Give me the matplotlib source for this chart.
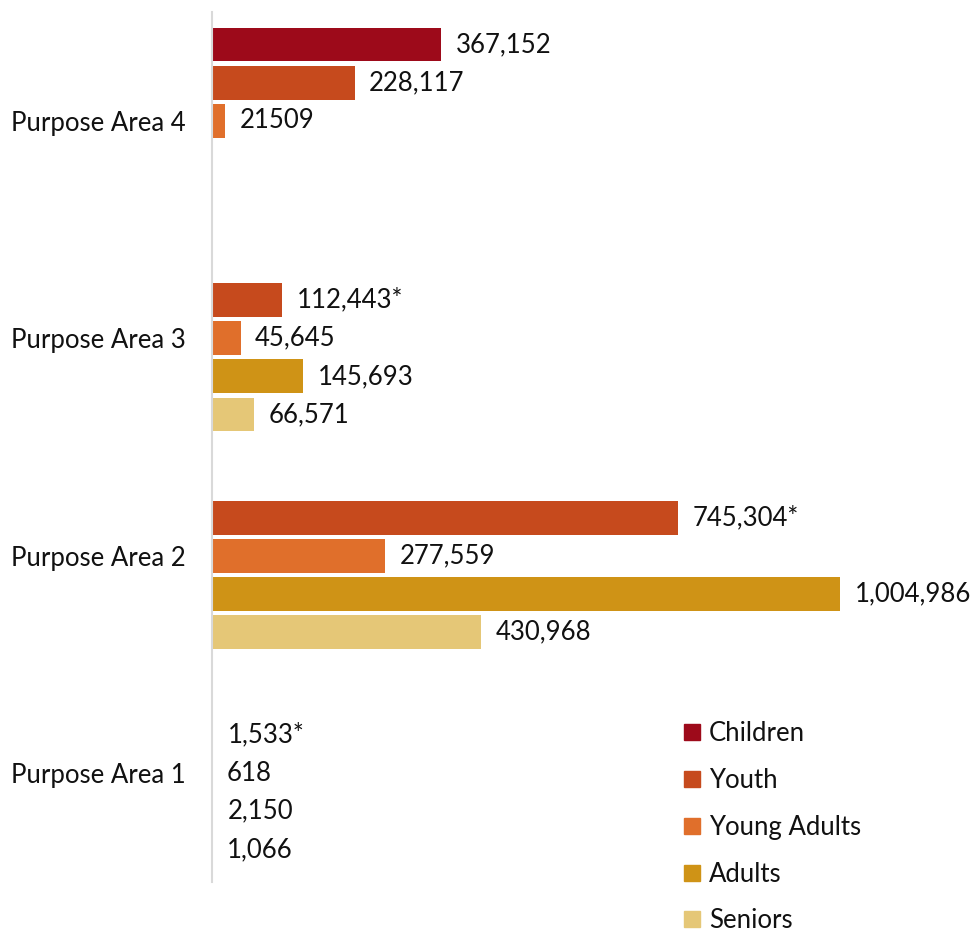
import numpy as np
import matplotlib
matplotlib.use("Agg")
import matplotlib.pyplot as plt
from matplotlib.lines import Line2D

plt.rcParams['font.family'] = ['Lato', 'DejaVu Sans']

# categories, bottom to top
areas = ["Purpose Area 1", "Purpose Area 2", "Purpose Area 3", "Purpose Area 4"]
series = ["Children", "Youth", "Young Adults", "Adults", "Seniors"]
colors = ["#9D0A1A", "#C64A1D", "#E06F2B", "#CF9316", "#E5C777"]

# values per series, one per purpose area (None = not reported)
children = [None, None, None, 367152]
youth = [1533, 745304, 112443, 228117]
young_adults = [618, 277559, 45645, 21509]
adults = [2150, 1004986, 145693, None]
seniors = [1066, 430968, 66571, None]

children_lbl = ["", "", "", "367,152"]
youth_lbl = ["1,533*", "745,304*", "112,443*", "228,117"]
young_adults_lbl = ["618", "277,559", "45,645", "21509"]
adults_lbl = ["2,150", "1,004,986", "145,693", ""]
seniors_lbl = ["1,066", "430,968", "66,571", ""]

data = [children, youth, young_adults, adults, seniors]
labels = [children_lbl, youth_lbl, young_adults_lbl, adults_lbl, seniors_lbl]

fs = 18.5

fig = plt.figure(figsize=(9.73, 9.32), dpi=100)
ax = fig.add_axes([212 / 973, 50 / 932, 750 / 973, 870 / 932])

slot = 0.175
bar_h = 0.155
y0 = np.arange(len(areas))

for k, (vals, lbls, col) in enumerate(zip(data, labels, colors)):
    offset = (2 - k) * slot
    idx = [i for i, v in enumerate(vals) if v is not None]
    w = [vals[i] for i in idx]
    bars = ax.barh(y0[idx] + offset, w, height=bar_h, color=col, linewidth=0)
    ax.bar_label(bars, labels=[lbls[i] for i in idx], padding=10.5,
                 fontsize=fs, color="#111111")

ax.set_xlim(0, 1200000)
ax.set_ylim(-0.5, 3.5)
ax.set_yticks(y0)
ax.set_yticklabels(areas, fontsize=fs, color="#111111")
ax.tick_params(axis="y", length=0, pad=19)
ax.set_xticks([])
for s in ["top", "right", "bottom"]:
    ax.spines[s].set_visible(False)
ax.spines["left"].set_color("#D9D9D9")
ax.spines["left"].set_linewidth(1.5)

handles = [Line2D([], [], marker="s", linestyle="none", markersize=11,
                  color=c) for c in colors]
fig.legend(handles, series, loc="upper left",
           bbox_to_anchor=(683 / 973, 1 - 721 / 932), frameon=False,
           fontsize=fs, labelspacing=0.85, handlelength=0.7,
           handletextpad=0.3, borderpad=0, borderaxespad=0,
           labelcolor="#111111")

fig.savefig("out.png", dpi=100)
